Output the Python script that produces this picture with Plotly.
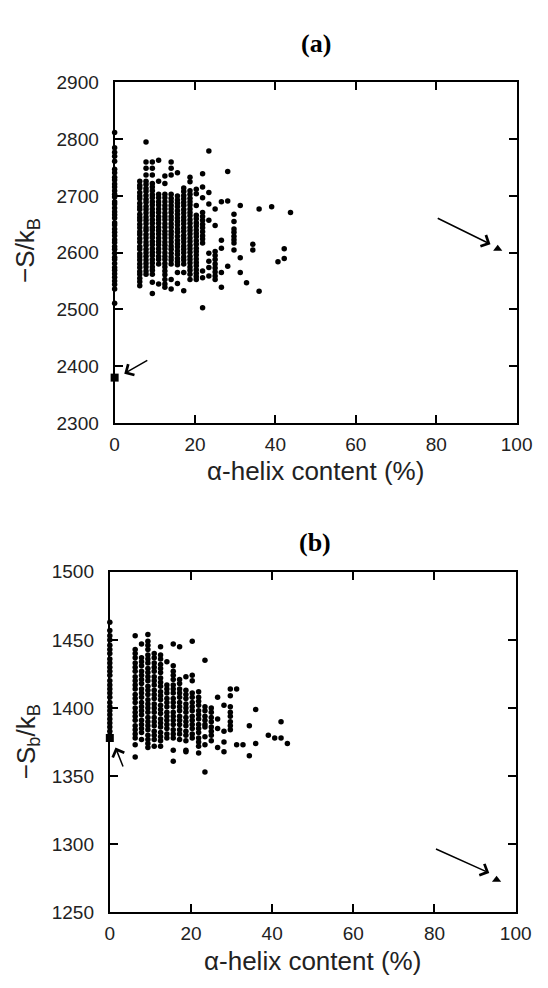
import plotly.graph_objects as go

# ---------------- data ----------------
helix_cols = [0, 6.25, 7.81, 9.38, 10.94, 12.5, 14.06, 15.63, 17.19, 18.75, 20.31,
              21.88, 23.44, 25.0, 26.56, 28.13, 29.69, 31.25, 32.81, 34.38, 35.94,
              39.06, 40.63, 42.19, 43.75]

entropy_a = [
    [2812, 2785, 2777, 2770, 2761, 2747, 2741, 2733, 2728, 2721, 2716, 2709, 2703, 2698, 2690, 2686,
     2679, 2672, 2667, 2661, 2653, 2649, 2642, 2636, 2630, 2623, 2618, 2611, 2606, 2599, 2592, 2588,
     2581, 2574, 2569, 2563, 2557, 2550, 2544, 2536, 2511],
    [2726, 2719, 2714, 2706, 2700, 2695, 2687, 2681, 2676, 2668, 2662, 2657, 2650, 2644, 2637, 2632,
     2625, 2619, 2611, 2606, 2598, 2593, 2587, 2580, 2574, 2567, 2562, 2555, 2549, 2542],
    [2795, 2760, 2749, 2737, 2726, 2720, 2713, 2708, 2701, 2694, 2689, 2682, 2676, 2670, 2663, 2657,
     2651, 2644, 2639, 2632, 2626, 2619, 2613, 2606, 2600, 2594, 2587, 2581, 2575, 2568, 2562],
    [2760, 2749, 2737, 2722, 2716, 2709, 2702, 2697, 2690, 2684, 2677, 2671, 2665, 2658, 2652, 2645,
     2640, 2633, 2627, 2620, 2614, 2607, 2601, 2595, 2588, 2582, 2575, 2569, 2562, 2548, 2528],
    [2763, 2726, 2703, 2697, 2690, 2684, 2677, 2671, 2664, 2658, 2652, 2645, 2639, 2633, 2626, 2620,
     2614, 2607, 2601, 2594, 2588, 2580, 2545],
    [2735, 2722, 2703, 2697, 2690, 2683, 2677, 2670, 2664, 2658, 2651, 2645, 2638, 2632, 2626, 2619,
     2613, 2607, 2600, 2594, 2588, 2581, 2575, 2568, 2561, 2553, 2545, 2539],
    [2760, 2749, 2737, 2703, 2696, 2690, 2683, 2677, 2671, 2664, 2658, 2651, 2645, 2638, 2632, 2626,
     2619, 2612, 2606, 2599, 2593, 2587, 2580, 2553, 2536],
    [2741, 2700, 2693, 2687, 2681, 2674, 2668, 2661, 2655, 2649, 2642, 2636, 2629, 2622, 2616, 2610,
     2603, 2597, 2590, 2584, 2579, 2565, 2546],
    [2714, 2708, 2701, 2695, 2689, 2683, 2676, 2670, 2663, 2657, 2651, 2644, 2638, 2631, 2625, 2619,
     2612, 2606, 2600, 2593, 2587, 2580, 2565, 2533],
    [2733, 2725, 2709, 2703, 2696, 2690, 2684, 2677, 2671, 2665, 2658, 2652, 2645, 2639, 2633, 2626,
     2620, 2613, 2607, 2601, 2594, 2588, 2582, 2575, 2569, 2562, 2553],
    [2712, 2704, 2683, 2666, 2660, 2653, 2647, 2640, 2634, 2628, 2621, 2615, 2608, 2602, 2596, 2589,
     2583, 2577, 2570, 2564, 2558, 2553],
    [2739, 2716, 2697, 2671, 2664, 2657, 2650, 2644, 2637, 2630, 2624, 2617, 2568, 2556, 2503],
    [2779, 2706, 2686, 2657, 2599, 2585, 2574, 2559],
    [2677, 2648, 2602, 2595, 2588, 2580, 2573, 2566, 2559, 2553],
    [2690, 2622, 2608, 2565, 2539],
    [2743, 2691, 2576],
    [2668, 2655, 2642, 2636, 2629, 2623, 2617, 2605],
    [2683, 2591, 2565],
    [2547],
    [2615, 2605],
    [2677, 2532],
    [2681],
    [2584],
    [2607, 2590],
    [2671],
]

entropy_b = [
    [1463, 1457, 1453, 1450, 1446, 1443, 1440, 1436, 1433, 1430, 1427, 1424, 1420, 1417, 1414, 1411,
     1408, 1404, 1401, 1398, 1395, 1392, 1389, 1386, 1383, 1380],
    [1453, 1443, 1440, 1437, 1433, 1430, 1427, 1423, 1420, 1417, 1414, 1410, 1407, 1404, 1400, 1397,
     1394, 1391, 1387, 1384, 1381, 1378, 1373, 1364],
    [1447, 1437, 1434, 1431, 1427, 1424, 1421, 1418, 1414, 1411, 1408, 1404, 1401, 1398, 1395, 1391,
     1388, 1385, 1382, 1377],
    [1454, 1449, 1446, 1443, 1439, 1436, 1433, 1429, 1426, 1423, 1420, 1416, 1413, 1410, 1406, 1403,
     1400, 1397, 1393, 1390, 1387, 1384, 1380, 1377, 1374, 1371],
    [1440, 1437, 1433, 1430, 1427, 1423, 1420, 1417, 1413, 1410, 1407, 1403, 1400, 1397, 1393, 1390,
     1387, 1383, 1380, 1377, 1372],
    [1445, 1439, 1436, 1432, 1429, 1426, 1422, 1419, 1416, 1412, 1409, 1406, 1402, 1399, 1396, 1392,
     1389, 1386, 1382, 1379, 1376, 1372],
    [1434, 1417, 1414, 1411, 1407, 1404, 1401, 1397, 1394, 1391, 1388, 1385, 1381, 1378],
    [1447, 1431, 1427, 1424, 1421, 1417, 1414, 1411, 1407, 1404, 1401, 1397, 1394, 1391, 1388, 1384,
     1381, 1378, 1369, 1361],
    [1445, 1421, 1418, 1414, 1411, 1408, 1404, 1401, 1398, 1394, 1391, 1388, 1384, 1381, 1377],
    [1423, 1413, 1410, 1407, 1403, 1400, 1397, 1393, 1390, 1387, 1383, 1380, 1376, 1369, 1368],
    [1449, 1424, 1420, 1411, 1408, 1404, 1401, 1398, 1394, 1391, 1388, 1385, 1381, 1378],
    [1412, 1408, 1405, 1402, 1398, 1395, 1392, 1388, 1385, 1382, 1378, 1375, 1372, 1367],
    [1435, 1401, 1398, 1394, 1391, 1388, 1386, 1379, 1373, 1353],
    [1400, 1397, 1393, 1390, 1386, 1383, 1380, 1376],
    [1408, 1392, 1385, 1371],
    [1402, 1383, 1375, 1368],
    [1414, 1409, 1401, 1397, 1394, 1390, 1387, 1384],
    [1414, 1373],
    [1373],
    [1387, 1365],
    [1399, 1374],
    [1380],
    [1378],
    [1390, 1378],
    [1374],
]

# special structures (square: 0 % helix, triangle: ~95 % helix)
square_a = (0, 2380)
triangle_a = (95.3, 2607)
square_b = (0, 1378)
triangle_b = (95.3, 1274)

x_ticks = [0, 20, 40, 60, 80, 100]
y_ticks_a = [2300, 2400, 2500, 2600, 2700, 2800, 2900]
y_ticks_b = [1250, 1300, 1350, 1400, 1450, 1500]


def flatten(cols, vals):
    xs, ys = [], []
    for c, vs in zip(cols, vals):
        for v in vs:
            xs.append(c)
            ys.append(v)
    return xs, ys


xa, ya = flatten(helix_cols, entropy_a)
xb, yb = flatten(helix_cols, entropy_b)

W, H = 548, 988
fig = go.Figure()

dot = dict(color="black", size=5.5)
fig.add_trace(go.Scatter(x=xa, y=ya, mode="markers", marker=dot, xaxis="x", yaxis="y", cliponaxis=False))
fig.add_trace(go.Scatter(x=[square_a[0]], y=[square_a[1]], mode="markers",
                         marker=dict(symbol="square", color="black", size=8), xaxis="x", yaxis="y", cliponaxis=False))
fig.add_trace(go.Scatter(x=[triangle_a[0]], y=[triangle_a[1]], mode="markers",
                         marker=dict(symbol="triangle-up", color="black", size=8), xaxis="x", yaxis="y", cliponaxis=False))

fig.add_trace(go.Scatter(x=xb, y=yb, mode="markers", marker=dot, xaxis="x2", yaxis="y2", cliponaxis=False))
fig.add_trace(go.Scatter(x=[square_b[0]], y=[square_b[1]], mode="markers",
                         marker=dict(symbol="square", color="black", size=8), xaxis="x2", yaxis="y2", cliponaxis=False))
fig.add_trace(go.Scatter(x=[triangle_b[0]], y=[triangle_b[1]], mode="markers",
                         marker=dict(symbol="triangle-up", color="black", size=8), xaxis="x2", yaxis="y2", cliponaxis=False))

tickfont = dict(family="Liberation Sans, Arial, sans-serif", size=19, color="#222")
axis_common = dict(showline=True, linecolor="black", linewidth=2, mirror="allticks",
                   ticks="inside", ticklen=8, tickwidth=1.5, tickcolor="black",
                   showgrid=False, zeroline=False, tickfont=tickfont)

fig.update_layout(
    width=W, height=H, margin=dict(l=0, r=0, t=0, b=0),
    paper_bgcolor="white", plot_bgcolor="white", showlegend=False,
    xaxis=dict(domain=[114 / W, 532 / W], range=[0, 100], tickvals=x_ticks, anchor="y",
               ticklabelstandoff=3, **axis_common),
    yaxis=dict(domain=[1 - 422 / H, 1 - 74 / H], range=[2300, 2900], tickvals=y_ticks_a, anchor="x",
               ticklabelstandoff=10, **axis_common),
    xaxis2=dict(domain=[109 / W, 531 / W], range=[0, 100], tickvals=x_ticks, anchor="y2",
                ticklabelstandoff=3, **axis_common),
    yaxis2=dict(domain=[1 - 922 / H, 1 - 574 / H], range=[1250, 1500], tickvals=y_ticks_b, anchor="x2",
                ticklabelstandoff=10, **axis_common),
)

title_font = dict(family="Liberation Sans, Arial, sans-serif", size=26, color="#222")
panel_font = dict(family="Liberation Serif, Times New Roman, serif", size=26, color="black")
ann = [
    dict(text="<b>(a)</b>", x=323 / W, y=1 - 34 / H, font=panel_font),
    dict(text="<b>(b)</b>", x=322 / W, y=1 - 544 / H, font=panel_font),
    dict(text="α-helix content (%)", x=323 / W, y=1 - 471 / H, font=title_font),
    dict(text="α-helix content (%)", x=320 / W, y=1 - 972 / H, font=title_font),
    dict(text="−S/k<sub>B</sub>", x=23 / W, y=1 - 246 / H, textangle=-90, font=title_font),
    dict(text="−S<sub>b</sub>/k<sub>B</sub>", x=23 / W, y=1 - 748 / H, textangle=-90, font=title_font),
]
for a in ann:
    a.update(xref="paper", yref="paper", showarrow=False, xanchor="center", yanchor="middle")

arrow = dict(text="", showarrow=True, arrowhead=4, arrowsize=1.6, arrowwidth=1.5, arrowcolor="black")
ann += [
    dict(x=2.4, y=2387, ax=8.5, ay=2412, xref="x", yref="y", axref="x", ayref="y", **arrow),
    dict(x=93.5, y=2615, ax=80, ay=2662, xref="x", yref="y", axref="x", ayref="y", **arrow),
    dict(x=1.4, y=1371, ax=3.4, ay=1356, xref="x2", yref="y2", axref="x2", ayref="y2", **arrow),
    dict(x=93.5, y=1279, ax=80, ay=1297, xref="x2", yref="y2", axref="x2", ayref="y2", **arrow),
]
fig.update_layout(annotations=ann)

fig.write_html("out.html")
